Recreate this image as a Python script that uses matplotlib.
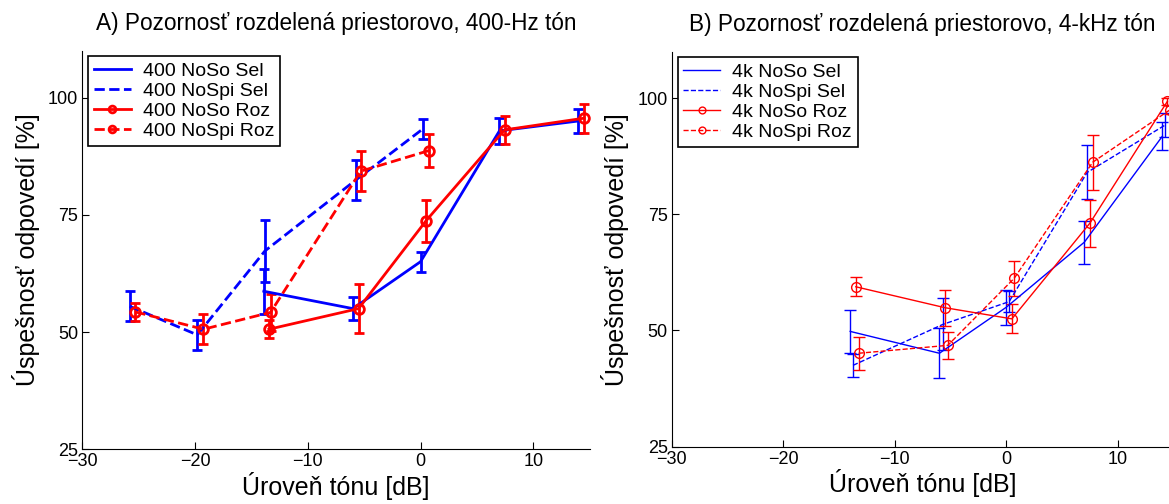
import matplotlib
matplotlib.use('Agg')
import matplotlib.pyplot as plt

plt.rcParams['font.family'] = ['Liberation Sans', 'DejaVu Sans']

# A) 400 Hz
sel_noso_400_x = [-13.9, -6.0, 0.0, 7.0, 14.0]
sel_noso_400_y = [58.7, 55.0, 65.0, 92.9, 95.0]
sel_noso_400_e = [4.8, 2.5, 2.1, 2.8, 2.5]

sel_nospi_400_x = [-25.8, -19.8, -13.8, -5.75, 0.2]
sel_nospi_400_y = [55.5, 49.4, 67.3, 82.4, 93.3]
sel_nospi_400_e = [3.2, 3.2, 6.6, 4.2, 2.2]

roz_noso_400_x = [-13.45, -5.5, 0.48, 7.45, 14.5]
roz_noso_400_y = [50.6, 55.0, 73.7, 93.1, 95.6]
roz_noso_400_e = [1.9, 5.2, 4.4, 3.0, 3.1]

roz_nospi_400_x = [-25.3, -19.25, -13.3, -5.3, 0.75]
roz_nospi_400_y = [54.3, 50.6, 54.2, 84.3, 88.7]
roz_nospi_400_e = [2.0, 3.2, 3.9, 4.3, 3.5]

# B) 4 kHz
sel_noso_4k_x = [-14.0, -6.0, 0.0, 7.0, 14.0]
sel_noso_4k_y = [49.8, 45.1, 55.0, 69.0, 91.8]
sel_noso_4k_e = [4.7, 5.35, 3.8, 4.6, 3.05]

sel_nospi_4k_x = [-13.75, -5.7, 0.25, 7.25, 14.25]
sel_nospi_4k_y = [42.5, 51.3, 56.2, 84.0, 94.2]
sel_nospi_4k_e = [2.5, 5.6, 2.3, 5.8, 2.65]

roz_noso_4k_x = [-13.5, -5.5, 0.5, 7.5, 14.45]
roz_noso_4k_y = [59.4, 54.9, 52.5, 73.1, 99.3]
roz_noso_4k_e = [2.0, 3.85, 3.1, 5.05, 0.8]

roz_nospi_4k_x = [-13.25, -5.25, 0.7, 7.75, 14.7]
roz_nospi_4k_y = [45.1, 46.8, 61.2, 86.2, 97.5]
roz_nospi_4k_e = [3.5, 2.85, 3.75, 5.95, 1.0]

x_ticks = [-30, -20, -10, 0, 10]
y_ticks = [25, 50, 75, 100]

titles = ['A) Pozornosť rozdelená priestorovo, 400-Hz tón',
          'B) Pozornosť rozdelená priestorovo, 4-kHz tón']
labels_400 = ['400 NoSo Sel', '400 NoSpi Sel', '400 NoSo Roz', '400 NoSpi Roz']
labels_4k = ['4k NoSo Sel', '4k NoSpi Sel', '4k NoSo Roz', '4k NoSpi Roz']

fig = plt.figure(figsize=(11.69, 5.04), dpi=100)
axA = fig.add_axes([0.0704, 0.1085, 0.434, 0.791])
axB = fig.add_axes([0.5747, 0.1137, 0.4292, 0.784])


def draw(ax, series, labels, lw, ms, cap):
    handles = []
    for (x, y, e, col, ls, mk), lab in zip(series, labels):
        ax.errorbar(x, y, yerr=e, fmt='none', ecolor=col, elinewidth=lw,
                    capsize=cap, capthick=lw, zorder=2)
        h, = ax.plot(x, y, color=col, ls=ls, lw=lw, marker=mk, ms=ms,
                     mfc='none', mec=col, mew=lw, label=lab, zorder=3)
        handles.append(h)
    leg = ax.legend(handles=handles, loc='upper left', fontsize=14,
                    frameon=True, fancybox=False, framealpha=1,
                    edgecolor='black', handlelength=1.9, labelspacing=0.12,
                    borderaxespad=0.3, handletextpad=0.6, borderpad=0.3,
                    markerscale=0.7)
    leg.get_frame().set_linewidth(1.2)
    ax.set_xlim(-30, 15)
    ax.set_ylim(25, 110)
    ax.set_xticks(x_ticks)
    ax.set_yticks(y_ticks)
    ax.set_xticklabels(['\u221230', '\u221220', '\u221210', '0', '10'])
    ax.spines['top'].set_visible(False)
    ax.spines['right'].set_visible(False)
    ax.tick_params(direction='in', labelsize=13, length=5, pad=3)
    ax.set_xlabel('Úroveň tónu [dB]', fontsize=18, labelpad=1)
    ax.set_ylabel('Úspešnosť odpovedí [%]', fontsize=18, labelpad=6)


series_A = [
    (sel_noso_400_x, sel_noso_400_y, sel_noso_400_e, 'blue', '-', None),
    (sel_nospi_400_x, sel_nospi_400_y, sel_nospi_400_e, 'blue', '--', None),
    (roz_noso_400_x, roz_noso_400_y, roz_noso_400_e, 'red', '-', 'o'),
    (roz_nospi_400_x, roz_nospi_400_y, roz_nospi_400_e, 'red', '--', 'o'),
]
series_B = [
    (sel_noso_4k_x, sel_noso_4k_y, sel_noso_4k_e, 'blue', '-', None),
    (sel_nospi_4k_x, sel_nospi_4k_y, sel_nospi_4k_e, 'blue', '--', None),
    (roz_noso_4k_x, roz_noso_4k_y, roz_noso_4k_e, 'red', '-', 'o'),
    (roz_nospi_4k_x, roz_nospi_4k_y, roz_nospi_4k_e, 'red', '--', 'o'),
]

draw(axA, series_A, labels_400, 2.0, 7, 3.5)
draw(axB, series_B, labels_4k, 1.0, 7, 4.5)

axA.set_title(titles[0], fontsize=16.3, pad=15)
axB.set_title(titles[1], fontsize=16.3, pad=15)

fig.savefig('out.png', dpi=100)
